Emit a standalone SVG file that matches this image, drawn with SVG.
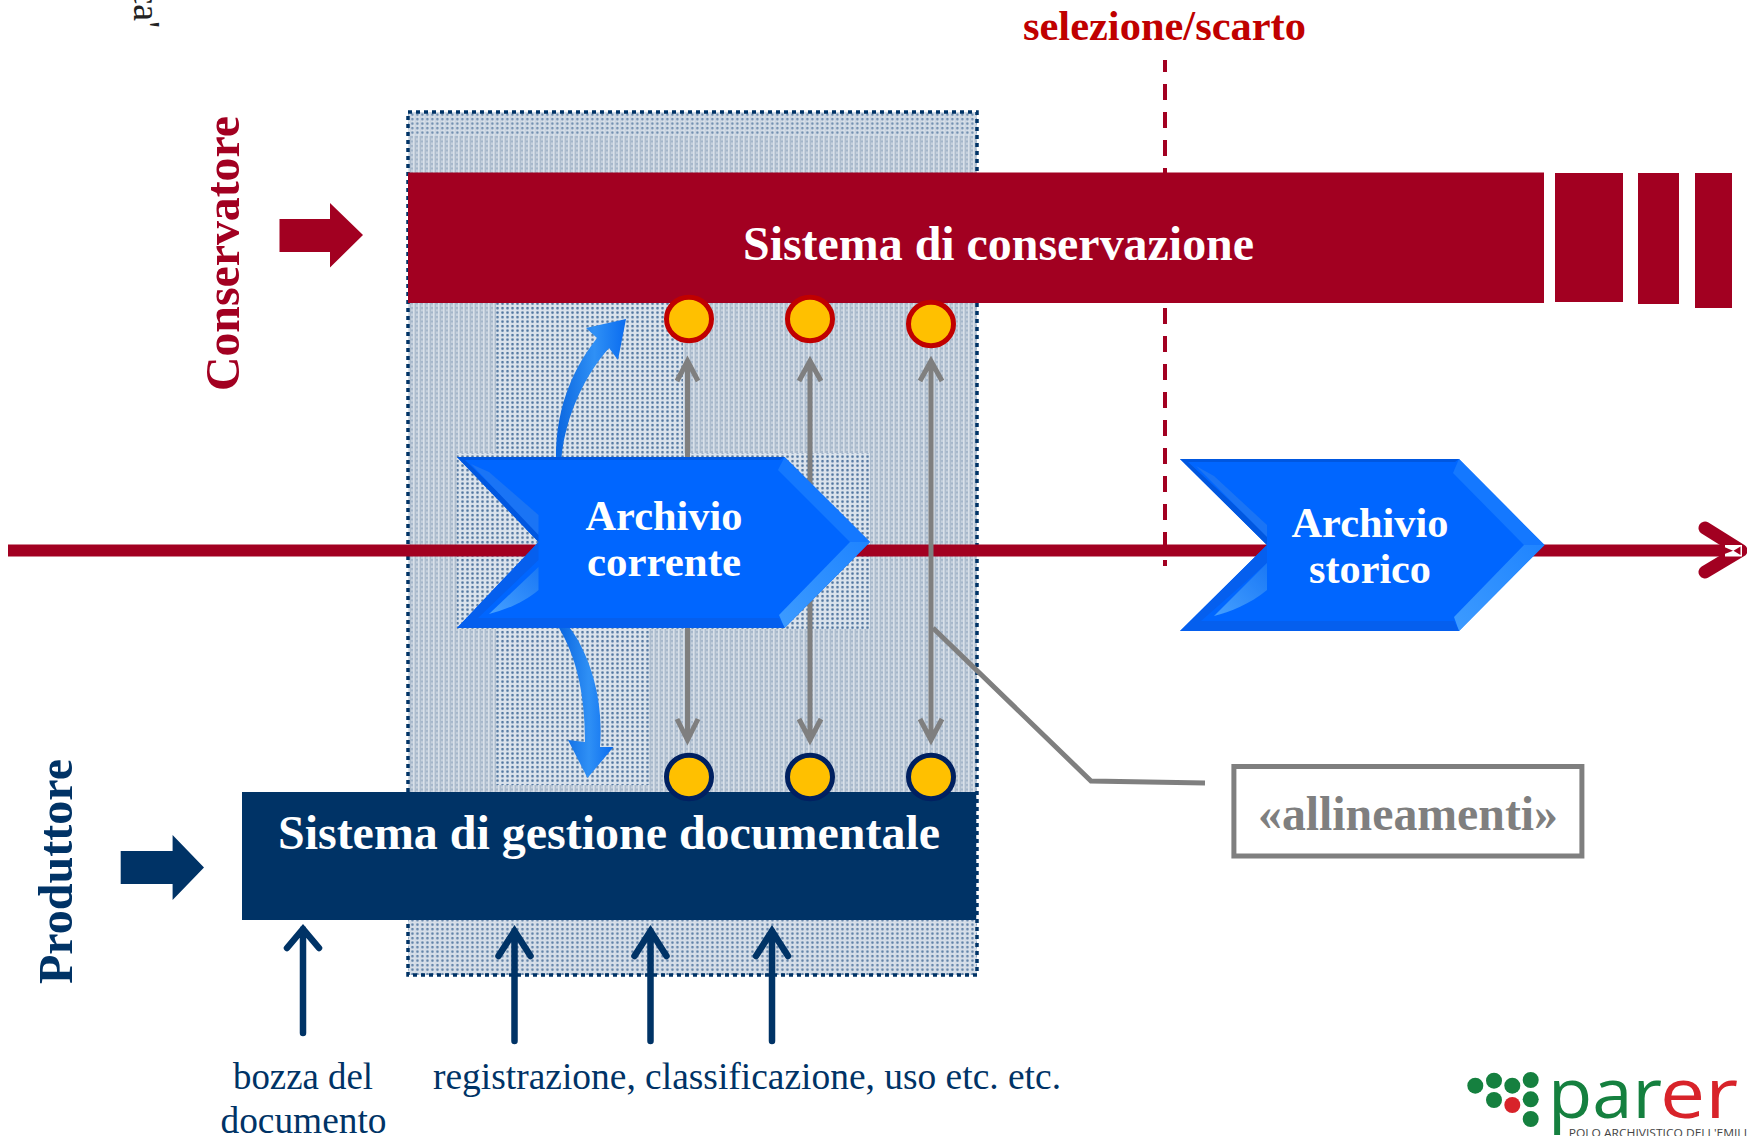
<svg xmlns="http://www.w3.org/2000/svg" width="1747" height="1136" viewBox="0 0 1747 1136">
<style>
text{font-family:"Liberation Serif","Times New Roman",serif}
.b{font-weight:bold}
.w{fill:#fff}
.red{fill:#a20021}
.navy{fill:#003366}
.cr{fill:#ffc000;stroke:#c00000;stroke-width:5}
.cn{fill:#ffc000;stroke:#002060;stroke-width:5}
.gr{fill:none;stroke:#7f7f7f;stroke-width:5}
.na{fill:none;stroke:#003366;stroke-width:6.5;stroke-linecap:round}
.lab{fill:#003366;font-size:37px}
.sans{font-family:"Open Sans",sans-serif}
</style>
<defs>
<pattern id="pa" width="5" height="4.5" patternUnits="userSpaceOnUse">
<rect width="5" height="4.5" fill="#c6d1dd"/>
<rect x="0" width="1" height="4.5" fill="#adbccd"/>
<rect x="3" width="1" height="4.5" fill="#d8e0e9"/>
<rect x="1" y="1" width="2" height="2" fill="#a3b5c9"/>
</pattern>
<pattern id="pb" width="5" height="4.5" patternUnits="userSpaceOnUse">
<rect width="5" height="4.5" fill="#dbe3ec"/>
<rect x="1.2" y="1" width="2.6" height="2.4" rx="1" fill="#5478a1"/>
</pattern>
<linearGradient id="gl" x1="0" y1="1" x2="1" y2="0"><stop offset="0" stop-color="#45a0ff"/><stop offset="1" stop-color="#1a78f5"/></linearGradient>
<linearGradient id="gr2" x1="0" y1="1" x2="1" y2="0"><stop offset="0" stop-color="#3d9bff"/><stop offset="1" stop-color="#1f84ff"/></linearGradient>
<linearGradient id="gc" x1="0" y1="0" x2="1" y2="0"><stop offset="0" stop-color="#0a66e0"/><stop offset=".55" stop-color="#2f90f5"/><stop offset="1" stop-color="#0a6cf0"/></linearGradient>
</defs>

<text transform="translate(134 28) rotate(90)" text-anchor="end" font-size="38" fill="#222">ca'</text>

<g id="zone">
<rect x="408" y="112" width="569" height="863" fill="url(#pa)"/>
<rect x="408" y="112" width="569" height="24" fill="url(#pb)" opacity=".6"/>
<rect x="496" y="300" width="187" height="157" fill="url(#pb)"/>
<rect x="457" y="453" width="413" height="176" fill="url(#pb)"/>
<rect x="496" y="629" width="153" height="156" fill="url(#pb)"/>
<rect x="408" y="920" width="569" height="55" fill="url(#pb)" opacity=".8"/>
<rect x="408" y="112" width="569" height="863" fill="none" stroke="#003366" stroke-width="3.5" stroke-dasharray="4 4"/>
</g>

<g id="connectors">
<path d="M1165 60V566" fill="none" stroke="#a20021" stroke-width="4" stroke-dasharray="16 12" stroke-dashoffset="4"/>
<rect x="8" y="544.5" width="1732" height="12" class="red"/>
<path d="M1705 528L1741 550.5L1705 572" fill="none" stroke="#a20021" stroke-width="13" stroke-linecap="round" stroke-linejoin="round"/>
<rect x="1725" y="545" width="17" height="11.5" fill="#fff"/>
<path d="M1722 546L1733 550.7L1722 555ZM1740.5 546.5V555L1733.5 550.7Z" class="red"/>
<path class="gr" d="M687.5 740V361M677 381L687.5 361L698 381M677 719L687.5 740L698 719"/>
<path class="gr" d="M810 740V361M799 381L810 361L821 381M799 719L810 740L821 719"/>
<path class="gr" d="M931 740V361M920 381L931 361L942 381M920 719L931 740L942 719"/>
<path class="gr" stroke-width="4.5" d="M933 628L1091 781L1205 783"/>
<path class="na" d="M303 1033V929M287 948L303 929L319 948"/>
<path class="na" d="M514.5 1041V931M498.5 956L514.5 931L530.5 956"/>
<path class="na" d="M650.5 1041V931M634.5 956L650.5 931L666.5 956"/>
<path class="na" d="M772 1041V931M756 956L772 931L788 956"/>
<path fill="url(#gc)" d="M556 457C556 415 568 375 597 338L586 328L626 319L618 360L609 348C585 375 566 415 561.5 457Z"/>
<path fill="url(#gc)" d="M559 628C575 655 585 690 585 742L568 740L587.5 778L613.5 747L600 747C604 700 590 655 570 628Z"/>
</g>

<g id="sistema-conservazione">
<rect x="408" y="172.5" width="1136" height="130.5" class="red"/>
<rect x="1555" y="173" width="68" height="129" class="red"/>
<rect x="1638" y="173" width="41" height="131" class="red"/>
<rect x="1695" y="173" width="37" height="135" class="red"/>
<text class="b w" x="743" y="259.5" font-size="48" textLength="511" lengthAdjust="spacingAndGlyphs">Sistema di conservazione</text>
</g>

<g id="sistema-gestione">
<rect x="242" y="792" width="734" height="128" class="navy"/>
<text class="b w" x="278" y="849" font-size="48" textLength="662" lengthAdjust="spacingAndGlyphs">Sistema di gestione documentale</text>
</g>

<g id="conservatore">
<text class="b red" transform="translate(238.5 391) rotate(-90)" font-size="49" textLength="275" lengthAdjust="spacingAndGlyphs">Conservatore</text>
<path class="red" d="M279.5 219H330V203L363 235L330 267.5V252H279.5Z"/>
</g>

<g id="produttore">
<text class="b navy" transform="translate(71.5 984) rotate(-90)" font-size="48" textLength="225" lengthAdjust="spacingAndGlyphs">Produttore</text>
<path class="navy" d="M120.7 851H172.6V835L204 867.5L172.6 900V884H120.7Z"/>
</g>

<g id="archivio-corrente">
<path fill="#0066ff" d="M457 457H784.6L870 542L784.6 628H457L538.5 542Z"/>
<path fill="#0057e0" d="M457 457H784.6L780 460H465L538.5 532V542Z"/>
<path fill="#1478ff" d="M784.6 457L870 542H850L778 470Z"/>
<path fill="url(#gr2)" d="M870 542L784.6 628L779 615L850 542Z"/>
<path fill="#055fee" d="M457 628H784.6L779 618H478L538.5 560V542Z"/>
<path fill="#1a74f5" d="M489 472L538.5 515V535L471 464Z"/>
<path fill="url(#gl)" d="M489 614L538.5 567V590C525 602 505 610 489 614Z"/>
<text class="b w" x="664" y="530" font-size="42" text-anchor="middle" textLength="157" lengthAdjust="spacingAndGlyphs">Archivio</text>
<text class="b w" x="664" y="576" font-size="42" text-anchor="middle" textLength="154" lengthAdjust="spacingAndGlyphs">corrente</text>
</g>

<g id="archivio-storico">
<path fill="#0066ff" d="M1180 459H1459L1544.5 545L1459 631H1180L1267 545Z"/>
<path fill="#0057e0" d="M1180 459H1459L1455 462H1188L1267 535V545Z"/>
<path fill="#1478ff" d="M1459 459L1544.5 545H1524L1453 473Z"/>
<path fill="url(#gr2)" d="M1544.5 545L1459 631L1454 617L1524 545Z"/>
<path fill="#055fee" d="M1180 631H1459L1454 621H1201L1267 563V545Z"/>
<path fill="#1a74f5" d="M1214 476L1267 525V537L1196 466Z"/>
<path fill="url(#gl)" d="M1214 616L1267 563V590C1250 604 1230 612 1214 616Z"/>
<text class="b w" x="1370" y="537" font-size="42" text-anchor="middle" textLength="157" lengthAdjust="spacingAndGlyphs">Archivio</text>
<text class="b w" x="1370" y="583" font-size="42" text-anchor="middle" textLength="122" lengthAdjust="spacingAndGlyphs">storico</text>
</g>

<g id="punti-conservazione">
<ellipse class="cr" cx="689" cy="319" rx="22.5" ry="21.7"/>
<ellipse class="cr" cx="810" cy="319" rx="22.5" ry="21.7"/>
<ellipse class="cr" cx="931" cy="324" rx="22.5" ry="21.7"/>
</g>
<g id="punti-gestione">
<ellipse class="cn" cx="689" cy="777" rx="22.5" ry="21.7"/>
<ellipse class="cn" cx="810" cy="777" rx="22.5" ry="21.7"/>
<ellipse class="cn" cx="931" cy="777" rx="22.5" ry="21.7"/>
</g>

<g id="allineamenti">
<rect x="1233.9" y="766.5" width="348" height="89.5" fill="#fff" stroke="#7f7f7f" stroke-width="5"/>
<text class="b" x="1258" y="829.5" font-size="48" fill="#7f7f7f" textLength="300" lengthAdjust="spacingAndGlyphs">«allineamenti»</text>
</g>

<g id="selezione">
<text class="b" x="1023" y="40" font-size="43" fill="#c00000" textLength="283" lengthAdjust="spacingAndGlyphs">selezione/scarto</text>
</g>

<g id="etichette">
<text class="lab" x="233" y="1089" textLength="140" lengthAdjust="spacingAndGlyphs">bozza del</text>
<text class="lab" x="220.5" y="1133" textLength="166" lengthAdjust="spacingAndGlyphs">documento</text>
<text class="lab" x="433" y="1089" textLength="628" lengthAdjust="spacingAndGlyphs">registrazione, classificazione, uso etc. etc.</text>
</g>

<g id="logo">
<g fill="#15803f">
<circle cx="1475.3" cy="1085.7" r="8"/><circle cx="1494" cy="1080.7" r="8"/><circle cx="1494" cy="1100" r="8"/><circle cx="1512.3" cy="1085.7" r="8"/>
<circle cx="1530.7" cy="1080" r="8"/><circle cx="1530.7" cy="1099.3" r="8"/><circle cx="1530.7" cy="1119" r="8"/>
</g>
<circle cx="1512.3" cy="1105" r="8" fill="#d8232a"/>
<text class="sans" x="1548" y="1118" font-size="70" fill="#15803f" textLength="114" lengthAdjust="spacingAndGlyphs">par</text>
<text class="sans" x="1660" y="1118" font-size="70" fill="#d8232a" textLength="78" lengthAdjust="spacingAndGlyphs">er</text>
<text class="sans" x="1568.7" y="1137" font-size="11" fill="#444" textLength="178.3" lengthAdjust="spacingAndGlyphs">POLO ARCHIVISTICO DELL'EMILI</text>
</g>
</svg>
